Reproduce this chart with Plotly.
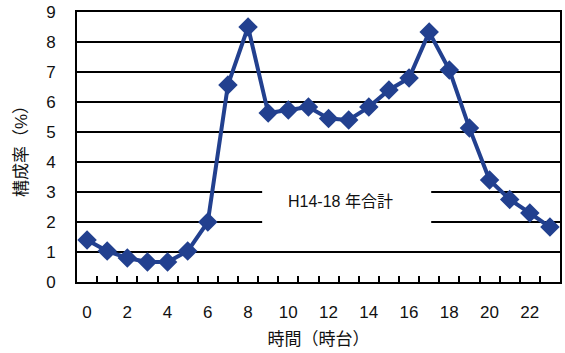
import plotly.graph_objects as go

# Hourly share of the total (%), hours 0-23
hours = list(range(24))
share = [1.40, 1.03, 0.80, 0.67, 0.67, 1.03, 2.00, 6.57, 8.50, 5.63, 5.73, 5.83,
         5.45, 5.40, 5.83, 6.40, 6.80, 8.33, 7.07, 5.13, 3.40, 2.75, 2.30, 1.83]
x_tick_vals = list(range(0, 23, 2))
y_tick_vals = list(range(0, 10))
series_label = "H14-18 年合計"

LINE = "#22408f"
FONT = "Liberation Sans, Noto Sans CJK JP, sans-serif"

fig = go.Figure()
fig.add_trace(go.Scatter(
    x=hours, y=share, mode="lines+markers",
    line=dict(color=LINE, width=4),
    marker=dict(symbol="diamond", size=15, color=LINE),
    showlegend=False, cliponaxis=False,
))

# white label box that interrupts the grid lines
fig.add_shape(type="rect", xref="x", yref="y", x0=8.7, x1=17.1, y0=1.65, y1=3.5,
              fillcolor="white", line=dict(width=0), layer="between")
fig.add_annotation(x=12.57, y=2.67, xref="x", yref="y", text=series_label,
                   showarrow=False, font=dict(size=16, color="#111", family=FONT))

fig.update_layout(
    width=565, height=353,
    margin=dict(l=77, r=3, t=12, b=71),
    paper_bgcolor="white", plot_bgcolor="white",
    font=dict(family=FONT, color="#111", size=17),
    xaxis=dict(
        range=[-0.5, 23.5], tickvals=x_tick_vals, ticks="", showgrid=False,
        showline=True, linecolor="black", linewidth=2, mirror=True,
        zeroline=False, tickfont=dict(size=17), ticklabelstandoff=14,
        minor=dict(tickvals=[h + 0.5 for h in hours[:-1]], ticks="inside",
                   ticklen=6, tickcolor="black", tickwidth=1.5, showgrid=False),
        title=dict(text="時間（時台）", font=dict(size=17), standoff=12),
    ),
    yaxis=dict(
        range=[0, 9], tickvals=y_tick_vals, ticks="inside", ticklen=3,
        tickcolor="black", showgrid=True, gridcolor="black", gridwidth=1.5,
        showline=True, linecolor="black", linewidth=2, mirror=True,
        zeroline=False, tickfont=dict(size=17), ticklabelstandoff=16,
        title=dict(text="構成率（%）", font=dict(size=17), standoff=14),
    ),
)

fig.write_html("out.html")
